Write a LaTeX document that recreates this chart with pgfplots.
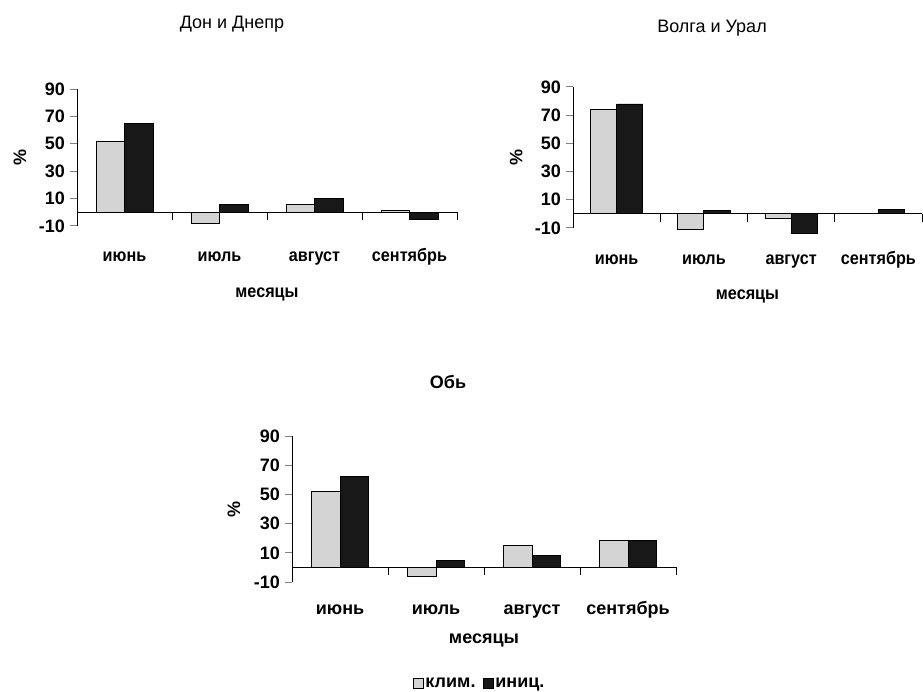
\documentclass[border=0pt]{standalone}
\usepackage{fontspec}
\setmainfont{Liberation Sans}
\newfontfamily\narrowfont[FakeStretch=0.9]{Liberation Sans}
\usepackage{pgfplots}
\pgfplotsset{compat=1.18}
\definecolor{clim}{HTML}{D4D4D4}
\definecolor{init}{HTML}{181818}
\newcommand\tickfont{\fontsize{18}{20}\selectfont\bfseries}
\newcommand\catfont{\fontsize{18}{20}\selectfont\bfseries\narrowfont}
\newcommand\catfontb{\fontsize{18}{20}\selectfont\bfseries}
\pgfplotsset{
  mybar/.style={
    scale only axis,
    ymin=-10, ymax=90, xmin=-0.5, xmax=3.5,
    axis lines*=left,
    x axis line style={draw=none},
    y axis line style={line width=1pt},
    xtick={0,1,2,3},
    xticklabels={июнь,июль,август,сентябрь},
    xtick style={draw=none},
    ytick={-10,10,30,50,70,90},
    yticklabels={-10,10,30,50,70,90},
    ytick style={line width=1pt},
    tick align=outside,
    major tick length=7pt,
    yticklabel style={font=\tickfont, anchor=east, inner sep=0pt, xshift=-5pt},
    xlabel={месяцы},
    ylabel={\%},
    clip=false,
  },
  climbar/.style={ybar, bar width=0.3, bar shift=-0.15, fill=clim, draw=black, line width=0.8pt},
  initbar/.style={ybar, bar width=0.3, bar shift=0.15, fill=init, draw=black, line width=0.8pt},
}
\newcommand\zerostuff{%
  \draw[line width=1.2pt] (axis cs:-0.5,0) -- (axis cs:3.5,0);
  \pgfplotsinvokeforeach{0.5,1.5,2.5,3.5}{\draw[line width=1pt] (axis cs:##1,0) -- ([yshift=-8pt]axis cs:##1,0);}%
}
\begin{document}
\begin{tikzpicture}
\useasboundingbox (0,0) rectangle (923pt,691pt);
\node[font=\fontsize{18}{20}\selectfont] at (232pt,667pt) {Дон и Днепр};
\node[font=\fontsize{18}{20}\selectfont] at (712pt,663pt) {Волга и Урал};
\node[font=\fontsize{18}{20}\selectfont\bfseries] at (448pt,309pt) {Обь};

% Don and Dnepr
\begin{axis}[mybar, at={(77pt,465pt)}, anchor=south west, width=380pt, height=137pt,
  xticklabel style={font=\catfont, anchor=base, yshift=-29pt},
  xlabel style={font=\catfont, at={(axis description cs:0.5,0)}, anchor=base, yshift=-72pt},
  ylabel style={font=\tickfont, at={(axis description cs:-0.15,0.5)}, anchor=center}]
\addplot[climbar] coordinates {(0,52) (1,-8) (2,5.5) (3,1.5)};
\addplot[initbar] coordinates {(0,65) (1,6) (2,10) (3,-5.5)};
\zerostuff
\end{axis}

% Volga and Ural
\begin{axis}[mybar, at={(573pt,463pt)}, anchor=south west, width=349pt, height=141pt,
  xticklabel style={font=\catfont, anchor=base, yshift=-30pt},
  xlabel style={font=\catfont, at={(axis description cs:0.5,0)}, anchor=base, yshift=-72pt},
  ylabel style={font=\tickfont, at={(axis description cs:-0.163,0.5)}, anchor=center}]
\addplot[climbar] coordinates {(0,74) (1,-11) (2,-3) (3,0)};
\addplot[initbar] coordinates {(0,78) (1,2.5) (2,-13.5) (3,3)};
\zerostuff
\end{axis}

% Ob
\begin{axis}[mybar, at={(292pt,109pt)}, anchor=south west, width=384pt, height=146pt,
  xticklabel style={font=\catfontb, anchor=base, yshift=-25pt},
  xlabel style={font=\catfontb, at={(axis description cs:0.5,0)}, anchor=base, yshift=-61pt},
  ylabel style={font=\tickfont, at={(axis description cs:-0.151,0.5)}, anchor=center},
  legend style={at={(axis description cs:0.315,-0.692)}, anchor=west, draw=none, fill=none,
    font=\catfontb, inner sep=0pt, nodes={inner sep=1.5pt},
    /tikz/every even column/.style={column sep=6pt}},
  legend columns=2,
  legend image code/.code={\draw[#1, line width=0.8pt] (0pt,-5pt) rectangle (10pt,5pt);}]
\addplot[climbar] coordinates {(0,52) (1,-6) (2,15) (3,18.3)};
\addlegendentry{клим.}
\addplot[initbar] coordinates {(0,62) (1,5) (2,8) (3,18.3)};
\addlegendentry{иниц.}
\zerostuff
\end{axis}
\end{tikzpicture}
\end{document}
